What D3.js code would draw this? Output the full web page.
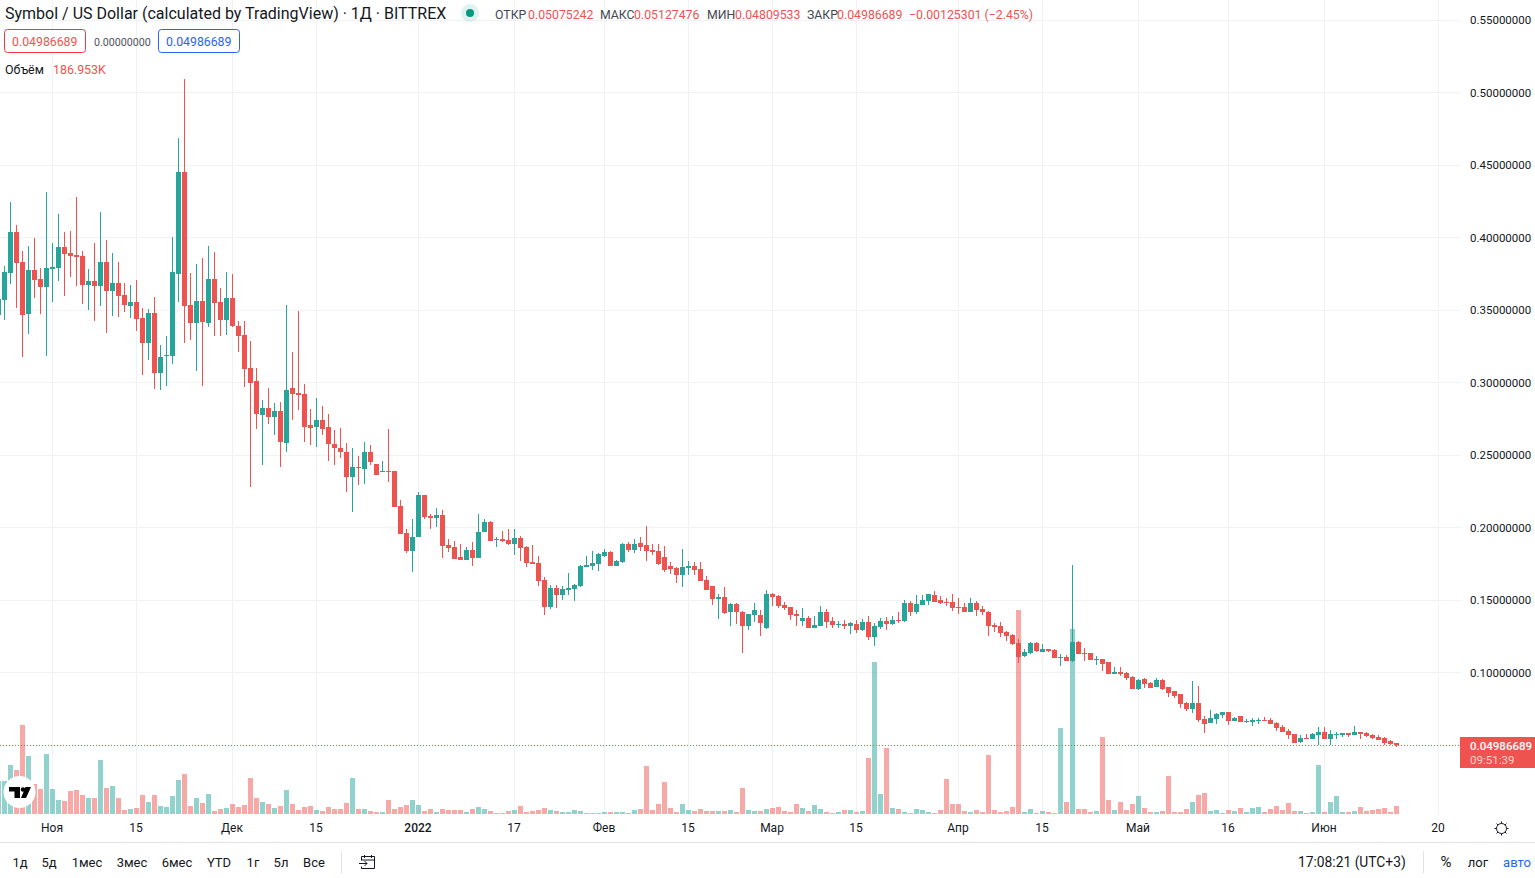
<!DOCTYPE html>
<html lang="ru">
<head>
<meta charset="utf-8">
<title>Symbol / US Dollar</title>
<script src="https://cdn.jsdelivr.net/npm/d3@7/dist/d3.min.js"></script>
<style>
html,body{margin:0;padding:0;background:#fff;overflow:hidden}
svg{display:block;font-family:Roboto,sans-serif}
text{fill:#131722}
</style>
</head>
<body>
<svg id="chart" width="1535" height="878"></svg>
<script>
// Daily candles for Symbol / US Dollar, oldest first
const firstDay = Date.UTC(2021, 9, 23);

const opens = [
.3462,.3566,.3752,.4034,.3828,.3469,.3772,.3710,.3655,.3779,
.3786,.3931,.3890,.3876,.3869,.3669,.3697,.3662,.3828,.3628,
.3683,.3600,.3524,.3552,.3441,.3269,.3476,.3062,.3179,.3179,
.3745,.4448,.3531,.3407,.3559,.3407,.3710,.3552,.3428,.3579,
.3386,.3324,.3097,.3007,.2772,.2821,.2759,.2800,.2579,.2959,
.2924,.2917,.2703,.2690,.2738,.2690,.2572,.2545,.2517,.2345,
.2414,.2400,.2517,.2434,.2379,.2386,.2386,.2145,.1959,.1834,
.1931,.2221,.2076,.2062,.2083,.1876,.1862,.1793,.1772,.1841,
.1786,.1966,.2034,.1910,.1917,.1910,.1883,.1924,.1862,.1759,
.1752,.1634,.1448,.1579,.1531,.1566,.1572,.1593,.1724,.1731,
.1745,.1800,.1828,.1731,.1759,.1883,.1841,.1890,.1876,.1841,
.1834,.1793,.1731,.1717,.1669,.1717,.1731,.1710,.1634,.1593,
.1503,.1517,.1414,.1469,.1414,.1317,.1393,.1393,.1303,.1538,
.1524,.1462,.1448,.1400,.1352,.1372,.1303,.1317,.1414,.1352,
.1324,.1331,.1317,.1331,.1290,.1345,.1241,.1310,.1352,.1331,
.1359,.1352,.1476,.1414,.1462,.1490,.1531,.1497,.1483,.1483,
.1448,.1448,.1414,.1476,.1434,.1414,.1324,.1317,.1276,.1255,
.1200,.1110,.1131,.1200,.1138,.1159,.1152,.1097,.1103,.1076,
.1207,.1131,.1131,.1083,.1090,.1069,.0986,.1000,.0993,.0966,
.0883,.0952,.0924,.0897,.0945,.0897,.0869,.0848,.0786,.0745,
.0786,.0676,.0648,.0676,.0703,.0724,.0662,.0697,.0655,.0655,
.0662,.0669,.0669,.0648,.0621,.0593,.0572,.0517,.0545,.0538,
.0566,.0586,.0538,.0566,.0566,.0579,.0566,.0586,.0579,.0566,
.0552,.0545,.0524,.05075242
];

const closes = [
.3572,.3759,.4034,.3821,.3462,.3772,.3703,.3655,.3786,.3793,
.3931,.3883,.3869,.3862,.3669,.3697,.3662,.3828,.3628,.3683,
.3593,.3531,.3552,.3434,.3269,.3476,.3062,.3172,.3186,.3759,
.4448,.3524,.3407,.3559,.3414,.3710,.3545,.3428,.3579,.3386,
.3317,.3090,.2993,.2779,.2821,.2759,.2800,.2586,.2945,.2917,
.2910,.2690,.2683,.2738,.2676,.2572,.2545,.2517,.2345,.2414,
.2407,.2517,.2448,.2359,.2386,.2379,.2138,.1952,.1834,.1931,
.2221,.2069,.2062,.2083,.1869,.1855,.1779,.1772,.1841,.1786,
.1966,.2034,.1903,.1917,.1903,.1883,.1924,.1855,.1752,.1745,
.1628,.1448,.1579,.1531,.1572,.1579,.1600,.1731,.1738,.1752,
.1814,.1828,.1731,.1766,.1883,.1841,.1883,.1862,.1834,.1828,
.1745,.1703,.1710,.1669,.1724,.1731,.1703,.1628,.1566,.1503,
.1517,.1407,.1469,.1414,.1317,.1400,.1428,.1338,.1538,.1517,
.1455,.1441,.1393,.1386,.1372,.1303,.1324,.1414,.1345,.1324,
.1331,.1317,.1338,.1290,.1345,.1241,.1317,.1352,.1331,.1359,
.1352,.1476,.1414,.1469,.1497,.1538,.1483,.1476,.1476,.1441,
.1441,.1414,.1476,.1428,.1414,.1317,.1310,.1269,.1248,.1193,
.1103,.1138,.1200,.1145,.1159,.1145,.1097,.1103,.1076,.1207,
.1124,.1124,.1083,.1090,.1055,.0986,.1000,.0986,.0959,.0883,
.0945,.0917,.0890,.0945,.0883,.0855,.0834,.0779,.0745,.0786,
.0669,.0641,.0683,.0710,.0724,.0662,.0683,.0655,.0662,.0669,
.0669,.0662,.0641,.0614,.0586,.0566,.0510,.0545,.0538,.0572,
.0586,.0538,.0572,.0572,.0579,.0566,.0586,.0572,.0559,.0545,
.0531,.0510,.0503,.04986689
];

const highs = [
.3634,.3800,.4241,.4083,.3903,.3938,.3993,.3786,.4310,.3959,
.4159,.4034,.4041,.4276,.3903,.3779,.3959,.4172,.3979,.3890,
.3828,.3683,.3669,.3703,.3510,.3503,.3586,.3255,.3317,.4000,
.4683,.5090,.3752,.3814,.3855,.3938,.3897,.3648,.3759,.3745,
.3421,.3421,.3283,.3097,.2876,.2959,.2855,.2862,.3531,.3207,
.3490,.2986,.2814,.2890,.2834,.2779,.2669,.2683,.2579,.2545,
.2490,.2586,.2566,.2434,.2455,.2676,.2386,.2186,.1986,.2055,
.2241,.2221,.2090,.2131,.2117,.1917,.1903,.1883,.1862,.1897,
.2090,.2055,.2041,.1931,.1972,.1986,.1986,.1938,.1869,.1876,
.1800,.1655,.1600,.1600,.1593,.1683,.1607,.1738,.1800,.1834,
.1821,.1848,.1834,.1772,.1890,.1897,.1917,.1931,.2007,.1883,
.1883,.1869,.1759,.1724,.1848,.1766,.1759,.1759,.1662,.1593,
.1538,.1586,.1476,.1476,.1421,.1400,.1476,.1428,.1566,.1545,
.1531,.1483,.1448,.1428,.1441,.1386,.1386,.1455,.1434,.1379,
.1352,.1359,.1345,.1359,.1366,.1386,.1338,.1372,.1379,.1386,
.1414,.1497,.1490,.1531,.1531,.1538,.1559,.1524,.1510,.1538,
.1510,.1476,.1510,.1490,.1455,.1421,.1338,.1345,.1283,.1262,
.1228,.1159,.1207,.1207,.1193,.1159,.1159,.1124,.1117,.1738,
.1214,.1166,.1131,.1110,.1090,.1069,.1034,.1034,.1000,.0972,
.0952,.0959,.0931,.0959,.0952,.0897,.0869,.0848,.0793,.0938,
.0903,.0697,.0738,.0717,.0724,.0724,.0690,.0697,.0676,.0683,
.0683,.0690,.0683,.0655,.0634,.0607,.0572,.0566,.0572,.0579,
.0621,.0621,.0600,.0586,.0579,.0579,.0628,.0586,.0586,.0572,
.0566,.0552,.0531,.05127476
];

const lows = [
.3428,.3428,.3676,.3510,.3172,.3331,.3579,.3469,.3179,.3552,
.3697,.3593,.3724,.3662,.3538,.3497,.3421,.3524,.3338,.3455,
.3448,.3483,.3441,.3352,.3048,.3152,.2952,.2945,.2972,.3124,
.3552,.3269,.3290,.3076,.2972,.3379,.3317,.3317,.3324,.3379,
.3207,.2966,.2276,.2676,.2428,.2710,.2634,.2414,.2517,.2738,
.2807,.2586,.2566,.2552,.2634,.2455,.2428,.2476,.2241,.2103,
.2290,.2297,.2428,.2359,.2379,.2310,.2138,.1952,.1821,.1690,
.1931,.2055,.1986,.2000,.1786,.1828,.1779,.1772,.1772,.1731,
.1786,.1966,.1903,.1862,.1897,.1876,.1807,.1766,.1724,.1745,
.1593,.1393,.1434,.1441,.1497,.1531,.1490,.1586,.1724,.1703,
.1697,.1793,.1731,.1731,.1752,.1828,.1821,.1834,.1766,.1807,
.1738,.1690,.1676,.1614,.1586,.1669,.1669,.1628,.1566,.1462,
.1366,.1400,.1317,.1331,.1131,.1290,.1345,.1248,.1297,.1455,
.1441,.1428,.1359,.1317,.1317,.1303,.1303,.1317,.1303,.1303,
.1303,.1297,.1262,.1269,.1283,.1221,.1179,.1297,.1290,.1324,
.1338,.1345,.1386,.1400,.1462,.1462,.1483,.1469,.1455,.1421,
.1400,.1414,.1414,.1386,.1393,.1248,.1276,.1241,.1214,.1186,
.1062,.1103,.1124,.1138,.1138,.1138,.1097,.1041,.1076,.1069,
.1124,.1076,.1083,.1048,.1007,.0986,.0986,.0972,.0945,.0883,
.0876,.0890,.0890,.0897,.0876,.0828,.0821,.0752,.0731,.0717,
.0655,.0579,.0648,.0641,.0683,.0634,.0662,.0655,.0648,.0628,
.0641,.0662,.0641,.0593,.0586,.0538,.0510,.0510,.0538,.0538,
.0497,.0538,.0497,.0538,.0552,.0552,.0566,.0538,.0552,.0538,
.0531,.0497,.0497,.04809533
];

// Traded volume per day, thousands
const volumes = [
771,771,1145,1028,2080,1355,701,584,1402,584,
327,304,538,561,444,374,374,1262,608,654,
374,93,117,140,444,280,444,187,164,421,
795,935,187,374,257,467,70,117,140,234,
164,210,841,374,280,234,140,187,561,234,
93,164,187,93,70,164,117,117,257,841,
117,117,70,47,47,327,117,164,210,327,
210,70,117,47,117,93,93,93,47,117,
164,117,70,23,23,70,93,187,47,70,
93,140,93,70,47,47,93,70,23,23,
23,47,47,47,47,23,93,117,1122,93,
234,748,140,47,234,93,70,117,70,70,
70,70,93,47,608,93,70,70,117,140,
164,70,47,234,140,70,210,117,47,23,
47,93,93,47,70,1309,3552,467,1542,140,
117,47,23,117,93,47,23,93,818,234,
234,70,47,93,47,1379,93,47,70,164,
4767,47,117,23,70,47,23,2010,280,4323,
117,117,47,70,1799,327,93,280,93,234,
421,140,47,47,70,888,47,47,117,280,
444,491,70,93,23,93,70,140,47,140,
164,47,117,187,93,257,70,70,23,47,
1145,47,280,421,47,47,70,164,70,93,
117,140,47,186.953
];

const priceTicks = [0.55, 0.5, 0.45, 0.4, 0.35, 0.3, 0.25, 0.2, 0.15, 0.1];

const dateTicks = [
  [2021, 10, 1, "Ноя"], [2021, 10, 15, "15"], [2021, 11, 1, "Дек"], [2021, 11, 15, "15"],
  [2022, 0, 1, "2022"], [2022, 0, 17, "17"], [2022, 1, 1, "Фев"], [2022, 1, 15, "15"],
  [2022, 2, 1, "Мар"], [2022, 2, 15, "15"], [2022, 3, 1, "Апр"], [2022, 3, 15, "15"],
  [2022, 4, 1, "Май"], [2022, 4, 16, "16"], [2022, 5, 1, "Июн"], [2022, 5, 20, "20"]
];

const rangeButtons = ["1д", "5д", "1мес", "3мес", "6мес", "YTD", "1г", "5л", "Все"];
const rangeButtonCentres = [20, 49, 87, 132, 177, 219, 253, 281, 314];

const legendPairs = [
  ["ОТКР", "0.05075242", 495, 528],
  ["МАКС", "0.05127476", 600, 634],
  ["МИН", "0.04809533", 707, 735],
  ["ЗАКР", "0.04986689", 807, 837]
];

const UP = "#26a69a", DOWN = "#ef5350", GRID = "#f1f2f5", RULE = "#e0e3eb", BLUE = "#2962ff";
const PANE_RIGHT = 1461, PANE_BOTTOM = 814;
const DAY = 864e5;

const candles = opens.map((o, i) => ({
  date: new Date(firstDay + i * DAY),
  o, c: closes[i], h: highs[i], l: lows[i], v: volumes[i]
}));

const svg = d3.select("#chart");

const x = d3.scaleUtc()
  .domain([new Date(Date.UTC(2021, 9, 24)), new Date(Date.UTC(2022, 5, 20))])
  .range([4.5, 1438.5]);
const y = d3.scaleLinear().domain([0, 0.55]).range([817, 19.5]);
const yVol = d3.scaleLinear().domain([0, 4767]).range([PANE_BOTTOM, 610]);

const tickDate = t => new Date(Date.UTC(t[0], t[1], t[2]));
const px = v => Math.round(y(v));

// Grid
const grid = svg.append("g").attr("shape-rendering", "crispEdges");
grid.selectAll(".gv").data(dateTicks).join("rect")
  .attr("x", d => Math.floor(x(tickDate(d)))).attr("y", 0)
  .attr("width", 1).attr("height", PANE_BOTTOM).attr("fill", GRID);
grid.selectAll(".gh").data(priceTicks).join("rect")
  .attr("x", 0).attr("y", d => px(d))
  .attr("width", PANE_RIGHT).attr("height", 1).attr("fill", GRID);

// Volume columns, tinted by the direction of the day
svg.append("g").attr("shape-rendering", "crispEdges")
  .selectAll("rect").data(candles).join("rect")
  .attr("x", d => Math.floor(x(d.date)) - 2)
  .attr("width", 5)
  .attr("y", d => Math.round(yVol(d.v)))
  .attr("height", d => PANE_BOTTOM - Math.round(yVol(d.v)))
  .attr("fill", d => d.c >= d.o ? UP : DOWN)
  .attr("fill-opacity", 0.5);

// Candles
const candleGroup = svg.append("g").attr("shape-rendering", "crispEdges");
candleGroup.selectAll(".wick").data(candles).join("rect")
  .attr("x", d => Math.floor(x(d.date)))
  .attr("width", 1)
  .attr("y", d => px(d.h))
  .attr("height", d => Math.max(1, px(d.l) - px(d.h)))
  .attr("fill", d => d.c >= d.o ? UP : DOWN);
candleGroup.selectAll(".body").data(candles).join("rect")
  .attr("x", d => Math.floor(x(d.date)) - 2)
  .attr("width", 5)
  .attr("y", d => px(Math.max(d.o, d.c)))
  .attr("height", d => Math.max(1, px(Math.min(d.o, d.c)) - px(Math.max(d.o, d.c))))
  .attr("fill", d => d.c >= d.o ? UP : DOWN);

// Last price guide
const last = candles[candles.length - 1];
svg.append("line")
  .attr("x1", 0).attr("x2", PANE_RIGHT)
  .attr("y1", px(last.c) + 0.5).attr("y2", px(last.c) + 0.5)
  .attr("stroke", DOWN).attr("stroke-width", 1).attr("stroke-dasharray", "1 2");

// Price axis
const yAxis = svg.append("g")
  .attr("transform", `translate(1462,0.5)`)
  .call(d3.axisRight(y).tickValues(priceTicks).tickFormat(d3.format(".8f")).tickSize(0).tickPadding(8));
yAxis.select(".domain").remove();
yAxis.selectAll("text").attr("font-size", 11.5).attr("font-family", "Roboto,sans-serif").style("fill", "#131722");

// Last price tag
svg.append("rect").attr("x", 1460).attr("y", 737).attr("width", 75).attr("height", 31).attr("fill", DOWN);
svg.append("text").attr("x", 1470).attr("y", 749.5).attr("font-size", 11.5).attr("font-weight", 500)
  .style("fill", "#fff").text(d3.format(".8f")(last.c));
svg.append("text").attr("x", 1470).attr("y", 764).attr("font-size", 11.5)
  .style("fill", "#ffd0cf").text("09:51:39");

// Date axis
const xAxis = svg.append("g")
  .attr("transform", `translate(-1,${PANE_BOTTOM})`)
  .call(d3.axisBottom(x)
    .tickValues(dateTicks.map(tickDate))
    .tickFormat((d, i) => dateTicks[i][3])
    .tickSize(0).tickPadding(9));
xAxis.select(".domain").remove();
xAxis.selectAll("text")
  .attr("font-size", 12).attr("font-family", "Roboto,sans-serif")
  .attr("font-weight", (d, i) => dateTicks[i][3] === "2022" ? 500 : 400)
  .style("fill", "#131722");

// Logo badge over the volume pane
const logo = svg.append("g");
logo.append("circle").attr("cx", 19.5).attr("cy", 792).attr("r", 16).attr("fill", "#fff");
logo.append("path").attr("fill", "#000")
  .attr("d", "M9 787H20V798H14.5V791.5H9Z M21 798L25.5 787H31L26 798Z");
logo.append("circle").attr("cx", 23).attr("cy", 789.5).attr("r", 2.2).attr("fill", "#000");

// Legend header
svg.append("text").attr("x", 5).attr("y", 19).attr("font-size", 16)
  .text("Symbol / US Dollar (calculated by TradingView) · 1Д · BITTREX");
svg.append("circle").attr("cx", 470).attr("cy", 13).attr("r", 9).attr("fill", "#089981").attr("fill-opacity", 0.13);
svg.append("circle").attr("cx", 470).attr("cy", 13).attr("r", 4).attr("fill", "#089981");

const legend = svg.append("g").attr("font-size", 12.3);
legendPairs.forEach(([label, value, lx, vx]) => {
  legend.append("text").attr("x", lx).attr("y", 19).style("fill", "#434651").text(label);
  legend.append("text").attr("x", vx).attr("y", 19).style("fill", DOWN).text(value);
});
legend.append("text").attr("x", 909).attr("y", 19).style("fill", DOWN).text("−0.00125301 (−2.45%)");

// Bid / spread / ask boxes
const boxes = svg.append("g").attr("font-size", 12.3);
boxes.append("rect").attr("x", 4.5).attr("y", 29.5).attr("width", 81).attr("height", 23).attr("rx", 3)
  .attr("fill", "#fff").attr("stroke", "#f23645");
boxes.append("text").attr("x", 12).attr("y", 46).style("fill", DOWN).text("0.04986689");
boxes.append("text").attr("x", 94).attr("y", 45.5).attr("font-size", 10.7).style("fill", "#50535e").text("0.00000000");
boxes.append("rect").attr("x", 158.5).attr("y", 29.5).attr("width", 81).attr("height", 23).attr("rx", 3)
  .attr("fill", "#fff").attr("stroke", BLUE);
boxes.append("text").attr("x", 166).attr("y", 46).style("fill", BLUE).text("0.04986689");

const volLegend = svg.append("g").attr("font-size", 12.4);
volLegend.append("text").attr("x", 5).attr("y", 74).text("Объём");
volLegend.append("text").attr("x", 53).attr("y", 74).style("fill", DOWN).text("186.953K");

// Bottom toolbar
svg.append("rect").attr("x", 0).attr("y", 842).attr("width", 1535).attr("height", 1).attr("fill", RULE);
svg.append("g").attr("font-size", 13).attr("text-anchor", "middle")
  .selectAll("text").data(rangeButtons).join("text")
  .attr("x", (d, i) => rangeButtonCentres[i]).attr("y", 866.5).text(d => d);
svg.append("rect").attr("x", 341).attr("y", 851).attr("width", 1).attr("height", 22).attr("fill", RULE);
svg.append("rect").attr("x", 1423).attr("y", 851).attr("width", 1).attr("height", 22).attr("fill", RULE);

// Go-to-date icon
svg.append("path")
  .attr("fill", "none").attr("stroke", "#131722").attr("stroke-width", 1)
  .attr("d", "M361.5 860.5V856.5H374.5V868.5H361.5V866.5 M361.5 860H374.5 M364.5 855V858 M371.5 855V858 M359 863.5H367 M364.5 861L367 863.5L364.5 866");

svg.append("text").attr("x", 1298).attr("y", 866.5).attr("font-size", 13.8).text("17:08:21 (UTC+3)");
svg.append("text").attr("x", 1446).attr("y", 867).attr("font-size", 15).attr("text-anchor", "middle").text("%");
svg.append("text").attr("x", 1478).attr("y", 866.5).attr("font-size", 13).attr("text-anchor", "middle").text("лог");
svg.append("text").attr("x", 1517).attr("y", 866.5).attr("font-size", 13).attr("text-anchor", "middle").style("fill", BLUE).text("авто");

// Settings gear
const gear = svg.append("g").attr("transform", "translate(1501.5,828.5)");
gear.append("circle").attr("r", 5).attr("fill", "none").attr("stroke", "#131722");
gear.selectAll("line").data(d3.range(8)).join("line")
  .attr("x1", d => 5 * Math.cos(d * Math.PI / 4)).attr("y1", d => 5 * Math.sin(d * Math.PI / 4))
  .attr("x2", d => 7 * Math.cos(d * Math.PI / 4)).attr("y2", d => 7 * Math.sin(d * Math.PI / 4))
  .attr("stroke", "#131722");
</script>
</body>
</html>
